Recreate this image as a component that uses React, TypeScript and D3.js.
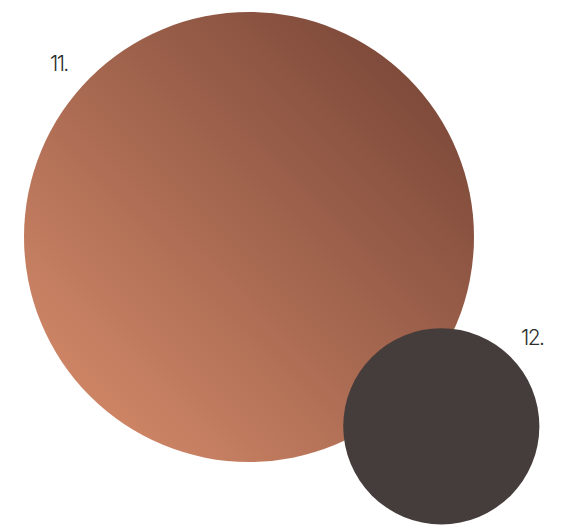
import React from "react";
import * as d3 from "d3";

const labels = ["11.", "12."];
const values = [100, 19];
const colors = ["url(#grad11)", "#453d3b"];

const W = 567;
const H = 525;

export default function App() {
  const r = d3.scaleSqrt().domain([0, 100]).range([0, 225]);
  const layout = [
    { cx: 249, cy: 237, lx: 50, ly: 71 },
    { cx: 441.3, cy: 426.3, lx: 521, ly: 345 },
  ];
  return (
    <svg
      width={W}
      height={H}
      style={{ position: "absolute", left: 0, top: 0, background: "#fff" }}
    >
      <defs>
        <linearGradient id="grad11" x1="0" y1="1" x2="1" y2="0">
          <stop offset="0.1" stopColor="#d28868" />
          <stop offset="0.9" stopColor="#7a4738" />
        </linearGradient>
      </defs>
      {values.map((v, i) => (
        <circle
          key={"c" + i}
          cx={layout[i].cx}
          cy={layout[i].cy}
          r={r(v)}
          fill={colors[i]}
        />
      ))}
      {labels.map((t, i) => (
        <text
          key={"t" + i}
          x={layout[i].lx}
          y={layout[i].ly}
          fontFamily="Inter, 'Liberation Sans', sans-serif"
          fontWeight={300}
          fontSize={21}
          letterSpacing={-1.6}
          fill="#2e2e2e"
        >
          {t}
        </text>
      ))}
    </svg>
  );
}
